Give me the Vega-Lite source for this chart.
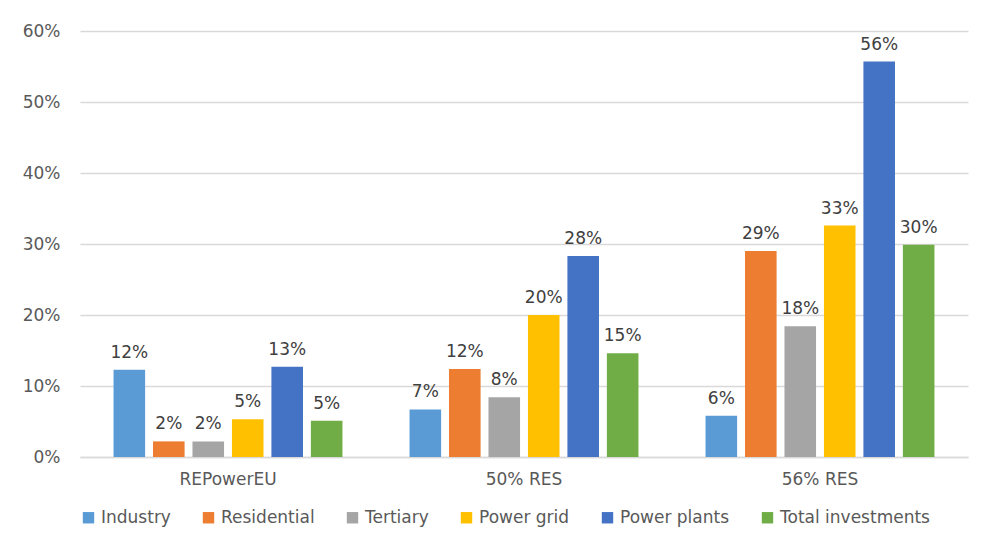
{
  "$schema": "https://vega.github.io/schema/vega-lite/v6.json",
  "width": 888,
  "height": 426,
  "autosize": {"type": "none"},
  "padding": {"left": 80, "top": 31, "right": 13, "bottom": 86},
  "background": "white",
  "data": {
    "values": [
      {"scenario": "REPowerEU", "category": "Industry", "share": 0.123},
      {"scenario": "REPowerEU", "category": "Residential", "share": 0.022},
      {"scenario": "REPowerEU", "category": "Tertiary", "share": 0.022},
      {"scenario": "REPowerEU", "category": "Power grid", "share": 0.053},
      {"scenario": "REPowerEU", "category": "Power plants", "share": 0.127},
      {"scenario": "REPowerEU", "category": "Total investments", "share": 0.051},
      {"scenario": "50% RES", "category": "Industry", "share": 0.067},
      {"scenario": "50% RES", "category": "Residential", "share": 0.124},
      {"scenario": "50% RES", "category": "Tertiary", "share": 0.084},
      {"scenario": "50% RES", "category": "Power grid", "share": 0.200},
      {"scenario": "50% RES", "category": "Power plants", "share": 0.283},
      {"scenario": "50% RES", "category": "Total investments", "share": 0.146},
      {"scenario": "56% RES", "category": "Industry", "share": 0.058},
      {"scenario": "56% RES", "category": "Residential", "share": 0.290},
      {"scenario": "56% RES", "category": "Tertiary", "share": 0.184},
      {"scenario": "56% RES", "category": "Power grid", "share": 0.326},
      {"scenario": "56% RES", "category": "Power plants", "share": 0.557},
      {"scenario": "56% RES", "category": "Total investments", "share": 0.299}
    ]
  },
  "encoding": {
    "x": {
      "field": "scenario",
      "type": "nominal",
      "sort": ["REPowerEU", "50% RES", "56% RES"],
      "scale": {"paddingInner": 0, "paddingOuter": 0},
      "axis": {
        "title": null,
        "labelAngle": 0,
        "ticks": false,
        "domainColor": "#d9d9d9",
        "domainWidth": 1.3,
        "labelPadding": 14,
        "labelFontSize": 17,
        "labelColor": "#595959"
      }
    },
    "xOffset": {
      "field": "category",
      "type": "nominal",
      "sort": ["Industry", "Residential", "Tertiary", "Power grid", "Power plants", "Total investments"],
      "scale": {"paddingInner": 0.2, "paddingOuter": 0.85}
    },
    "y": {
      "field": "share",
      "type": "quantitative",
      "scale": {"domain": [0, 0.6], "nice": false},
      "axis": {
        "title": null,
        "format": "0%",
        "values": [0, 0.1, 0.2, 0.3, 0.4, 0.5, 0.6],
        "domain": false,
        "ticks": false,
        "labelPadding": 20,
        "labelFontSize": 17,
        "labelColor": "#595959",
        "gridColor": "#d9d9d9",
        "gridWidth": 1.3
      }
    }
  },
  "layer": [
    {
      "mark": {"type": "bar"},
      "encoding": {
        "color": {
          "field": "category",
          "type": "nominal",
          "sort": ["Industry", "Residential", "Tertiary", "Power grid", "Power plants", "Total investments"],
          "scale": {
            "domain": ["Industry", "Residential", "Tertiary", "Power grid", "Power plants", "Total investments"],
            "range": ["#5B9BD5", "#ED7D31", "#A5A5A5", "#FFC000", "#4472C4", "#70AD47"]
          },
          "legend": {
            "title": null,
            "orient": "none",
            "direction": "horizontal",
            "legendX": 0,
            "legendY": 478,
            "symbolType": "square",
            "symbolSize": 130,
            "symbolStrokeWidth": 0,
            "labelFontSize": 17,
            "labelColor": "#595959",
            "labelOffset": 4,
            "columnPadding": 29,
            "labelLimit": 0
          }
        }
      }
    },
    {
      "mark": {"type": "text", "baseline": "bottom", "dy": -8, "fontSize": 17, "color": "#404040"},
      "encoding": {
        "text": {"field": "share", "type": "quantitative", "format": ".0%"}
      }
    }
  ],
  "config": {
    "font": "DejaVu Sans",
    "view": {"stroke": null}
  }
}
